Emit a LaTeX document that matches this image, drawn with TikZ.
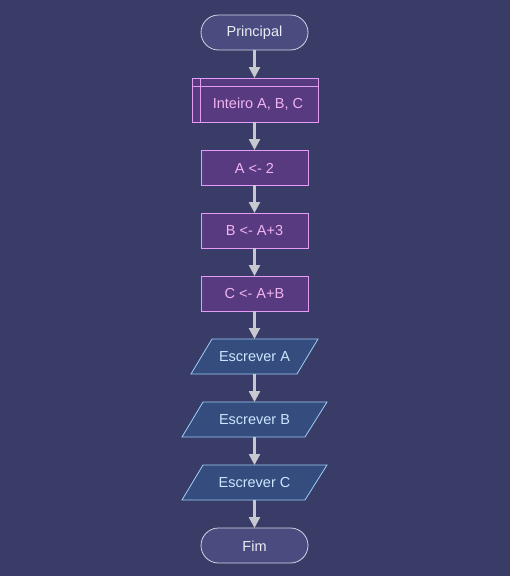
\documentclass[tikz,border=0pt]{standalone}
\usepackage{fontspec}
\setmainfont{Liberation Sans}
\usetikzlibrary{arrows.meta,shapes.geometric}
\definecolor{bg}{HTML}{3A3C68}
\definecolor{termfill}{HTML}{4A4C80}
\definecolor{termdraw}{HTML}{D4D4E4}
\definecolor{termtext}{HTML}{ECECF4}
\definecolor{procfill}{HTML}{583A80}
\definecolor{procdraw}{HTML}{E49CF4}
\definecolor{proctext}{HTML}{F2B4F2}
\definecolor{iofill}{HTML}{344C7E}
\definecolor{iodraw}{HTML}{9CCEF4}
\definecolor{iotext}{HTML}{CCE6FF}
\definecolor{arr}{HTML}{C8C8D0}
\begin{document}
\begin{tikzpicture}[x=1pt,y=-1pt,
  font=\fontsize{14.5}{16}\selectfont,
  term/.style={draw=termdraw,fill=termfill,text=termtext,rounded corners=17.5pt,line width=0.8pt},
  proc/.style={draw=procdraw,fill=procfill,text=proctext,line width=0.8pt},
  iobox/.style={draw=iodraw,fill=iofill,text=iotext,line width=0.8pt},
  flow/.style={draw=arr,line width=2.4pt,-{Triangle[length=11pt,width=11pt]}}]
\fill[bg] (0,0) rectangle (510,576);
\useasboundingbox (0,0) rectangle (510,576);
% terminal start
\filldraw[term] (201,15) rectangle (308,50);
\node[text=termtext] (p) at (254.5,33) {Principal};
\coordinate (pB) at (254.5,50);
% declaration
\filldraw[proc] (192,78) rectangle (318,122);
\draw[procdraw,line width=0.8pt] (200,78) -- (200,122);
\draw[procdraw,line width=0.8pt] (192,86) -- (318,86);
\node[text=proctext] (d) at (258,104.5) {Inteiro A, B, C};
\coordinate (dT) at (254.5,78);
\coordinate (dB) at (254.5,122);
% processes
\filldraw[proc] (201,150) rectangle (308,185);
\node[text=proctext] (a) at (254.5,168) {A <- 2};
\coordinate (aT) at (254.5,150); \coordinate (aB) at (254.5,185);
\filldraw[proc] (201,213) rectangle (308,248);
\node[text=proctext] (b) at (254.5,231) {B <- A+3};
\coordinate (bT) at (254.5,213); \coordinate (bB) at (254.5,248);
\filldraw[proc] (201,276) rectangle (308,311);
\node[text=proctext] (c) at (254.5,294) {C <- A+B};
\coordinate (cT) at (254.5,276); \coordinate (cB) at (254.5,311);
% outputs
\filldraw[iobox] (212,339) -- (318,339) -- (297,374) -- (191,374) -- cycle;
\node[text=iotext] (ea) at (254.5,357) {Escrever A};
\coordinate (eaT) at (254.5,339); \coordinate (eaB) at (254.5,374);
\filldraw[iobox] (203,402) -- (327,402) -- (305,437) -- (182,437) -- cycle;
\node[text=iotext] (eb) at (254.5,420) {Escrever B};
\coordinate (ebT) at (254.5,402); \coordinate (ebB) at (254.5,437);
\filldraw[iobox] (203,465) -- (327,465) -- (305,500) -- (182,500) -- cycle;
\node[text=iotext] (ec) at (254.5,483) {Escrever C};
\coordinate (ecT) at (254.5,465); \coordinate (ecB) at (254.5,500);
% terminal end
\filldraw[term] (201,528) rectangle (308,563);
\node[text=termtext] (f) at (254.5,546) {Fim};
\coordinate (fT) at (254.5,528);
% connectors
\draw[flow] (pB) -- (dT);
\draw[flow] (dB) -- (aT);
\draw[flow] (aB) -- (bT);
\draw[flow] (bB) -- (cT);
\draw[flow] (cB) -- (eaT);
\draw[flow] (eaB) -- (ebT);
\draw[flow] (ebB) -- (ecT);
\draw[flow] (ecB) -- (fT);
\end{tikzpicture}
\end{document}
